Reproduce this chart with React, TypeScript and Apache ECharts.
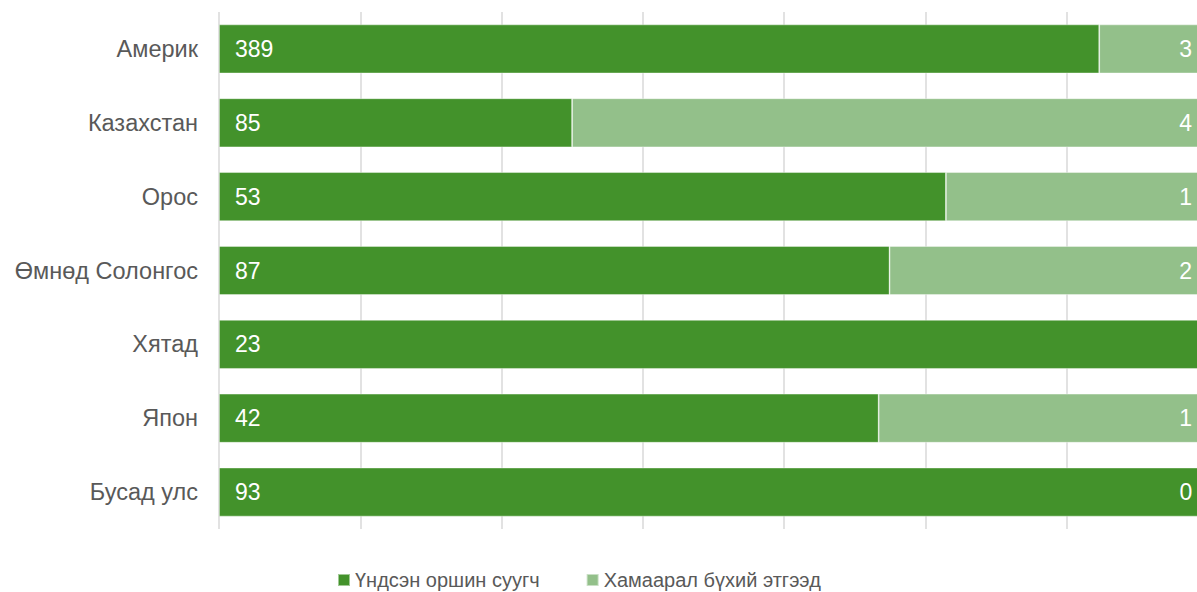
import React, { useEffect, useRef } from "react";
import * as echarts from "echarts";

const categories = ["Америк", "Казахстан", "Орос", "Өмнөд Солонгос", "Хятад", "Япон", "Бусад улс"];
const seriesNames = ["Үндсэн оршин суугч", "Хамаарал бүхий этгээд"];
// bar shares (0..1)
const residentShare = [0.89, 0.357, 0.735, 0.678, 1, 0.667, 1];
const relatedShare = [0.11, 0.643, 0.265, 0.322, 0, 0.333, 0];
// values printed on the bars
const residentLabels = [389, 85, 53, 87, 23, 42, 93];
const relatedLabels: (number | null)[] = [3, 4, 1, 2, null, 1, 0];

const DARK = "#43922b";
const LIGHT = "#93c08a";
const FONT = "'Liberation Sans', Arial, sans-serif";

export default function App() {
  const ref = useRef<HTMLDivElement>(null);
  useEffect(() => {
    document.body.style.margin = "0";
    const chart = echarts.init(ref.current!, null, { renderer: "svg" });
    chart.setOption({
      animation: false,
      textStyle: { fontFamily: FONT },
      grid: { left: 219, right: 22, top: 12, bottom: 63, containLabel: false },
      legend: {
        data: seriesNames,
        left: 332,
        top: 565,
        icon: "rect",
        itemWidth: 12,
        itemHeight: 12,
        itemGap: 46,
        textStyle: { fontSize: 20, color: "#595959", fontFamily: FONT },
      },
      xAxis: {
        type: "value",
        min: 0,
        max: 1,
        interval: 1 / 7,
        axisLabel: { show: false },
        axisLine: { show: false },
        axisTick: { show: false },
        splitLine: { show: true, lineStyle: { color: "#d9d9d9", width: 1.5 } },
      },
      yAxis: {
        type: "category",
        data: categories,
        inverse: true,
        axisLine: { show: false },
        axisTick: { show: false },
        axisLabel: { fontSize: 23.5, color: "#595959", margin: 21, fontFamily: FONT },
      },
      series: [
        {
          name: seriesNames[0],
          type: "bar",
          stack: "total",
          barWidth: 49,
          itemStyle: { color: DARK, borderColor: "rgba(255,255,255,0.5)", borderWidth: 0.8 },
          data: residentShare,
          label: {
            show: true,
            position: "insideLeft",
            distance: 16,
            color: "#ffffff",
            fontSize: 23,
            fontFamily: FONT,
            formatter: (p: any) => String(residentLabels[p.dataIndex]),
          },
        },
        {
          name: seriesNames[1],
          type: "bar",
          stack: "total",
          barWidth: 49,
          itemStyle: { color: LIGHT, borderColor: "rgba(255,255,255,0.5)", borderWidth: 0.8 },
          data: relatedShare.map((v, i) => ({
            value: v,
            label: { show: relatedLabels[i] !== null },
          })),
          label: {
            show: true,
            position: "insideRight",
            distance: 16,
            color: "#ffffff",
            fontSize: 23,
            fontFamily: FONT,
            formatter: (p: any) => {
              const t = relatedLabels[p.dataIndex];
              return t === null ? "" : String(t);
            },
          },
        },
      ],
    });
    return () => chart.dispose();
  }, []);
  return (
    <div style={{ width: 1197, height: 592, overflow: "hidden" }}>
      <div ref={ref} style={{ width: 1230, height: 592 }} />
    </div>
  );
}
